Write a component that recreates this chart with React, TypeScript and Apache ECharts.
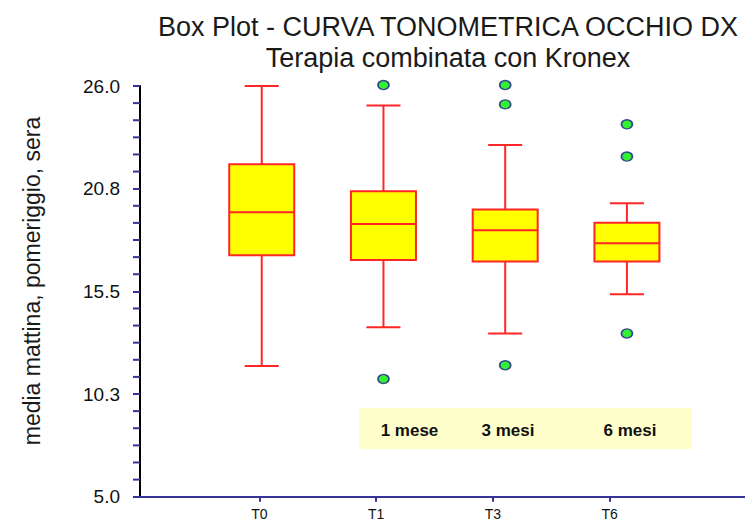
import React, { useEffect, useRef } from "react";
import * as echarts from "echarts";

// ---- data ----
const categories = ["T0", "T1", "T3", "T6"];
const whiskerLow = [11.68, 13.66, 13.35, 15.35];
const q1 = [17.34, 17.1, 17.02, 17.02];
const median = [19.54, 18.94, 18.62, 17.96];
const q3 = [22.0, 20.62, 19.69, 19.01];
const whiskerHigh = [26.0, 25.0, 22.98, 20.0];
const outliers: number[][] = [[], [26.05, 11.02], [26.05, 25.06, 11.72], [24.04, 22.39, 13.35]];
const yTicks = [5.0, 10.25, 15.5, 20.75, 26.0];
const minorPerMajor = 6;
const periodLabels = ["1 mese", "3 mesi", "6 mesi"];

const titleText = "Box Plot - CURVA TONOMETRICA OCCHIO DX";
const subtitleText = "Terapia combinata con Kronex";
const yName = "media mattina, pomeriggio, sera";

const FONT = "'Liberation Sans', Arial, sans-serif";
const RED = "#ff2626";
const BLUE = "#33339a";

export default function App() {
  const ref = useRef<HTMLDivElement>(null);

  useEffect(() => {
    if (!ref.current) return;
    const chart = echarts.init(ref.current, null, { renderer: "svg" });

    const boxData = categories.map((c, i) => [
      i + 1,
      whiskerLow[i],
      q1[i],
      median[i],
      q3[i],
      whiskerHigh[i],
    ]);
    const outlierData: number[][] = [];
    outliers.forEach((arr, i) => arr.forEach((v) => outlierData.push([i + 1, v])));

    const yMin = yTicks[0];
    const yMax = yTicks[yTicks.length - 1];
    const yMajor = yTicks[1] - yTicks[0];
    const yMinor = yMajor / minorPerMajor;
    // minor tick positions between the labelled ticks
    const minorTickData: number[][] = [];
    for (let j = 0; j < yTicks.length - 1; j++) {
      for (let k = 1; k < minorPerMajor; k++) {
        minorTickData.push([0, yTicks[j] + k * yMinor]);
      }
    }

    const option: any = {
      animation: false,
      backgroundColor: "#ffffff",
      title: [
        {
          text: titleText,
          left: 443,
          top: 8,
          textAlign: "center",
          textStyle: { fontFamily: FONT, fontSize: 27, fontWeight: "normal", color: "#1a1a1a" },
        },
        {
          text: subtitleText,
          left: 443,
          top: 39,
          textAlign: "center",
          textStyle: { fontFamily: FONT, fontSize: 27, fontWeight: "normal", color: "#1a1a1a" },
        },
      ],
      grid: [
        { left: 140, right: 0, top: 86, bottom: 33.3 },
        { left: 142.5, right: 18.5, top: 86, bottom: 33.3 },
      ],
      xAxis: [
        {
          type: "value",
          gridIndex: 0,
          min: 0,
          max: 4.97,
          axisLine: { show: true, onZero: false, lineStyle: { color: BLUE, width: 2 } },
          axisTick: { show: false },
          axisLabel: { show: false },
          splitLine: { show: false },
        },
        {
          type: "category",
          gridIndex: 1,
          data: ["", ...categories, ""],
          boundaryGap: false,
          axisLine: { show: false },
          axisTick: {
            show: true,
            length: 5,
            interval: (_i: number, v: string) => v !== "",
            lineStyle: { color: BLUE, width: 2 },
          },
          axisLabel: {
            interval: 0,
            margin: 10,
            fontFamily: FONT,
            fontSize: 14,
            color: "#111",
          },
          splitLine: { show: false },
        },
      ],
      yAxis: [
        {
          type: "value",
          gridIndex: 0,
          min: yMin,
          max: yMax,
          interval: yMajor,
          axisLine: { show: true, onZero: false, lineStyle: { color: "#000", width: 2 } },
          axisTick: { show: true, length: 7, lineStyle: { color: BLUE, width: 2 } },
          axisLabel: {
            margin: 20,
            fontFamily: FONT,
            fontSize: 19,
            color: "#111",
            formatter: (v: number) => v.toFixed(1),
          },
          splitLine: { show: false },
        },
        {
          type: "value",
          gridIndex: 1,
          min: yMin,
          max: yMax,
          show: false,
        },
      ],
      graphic: [
        {
          type: "text",
          x: 32,
          y: 281,
          rotation: Math.PI / 2,
          style: {
            text: yName,
            fontFamily: FONT,
            fontSize: 23,
            fill: "#1a1a1a",
            textAlign: "center",
            textVerticalAlign: "middle",
          },
        },
        {
          type: "rect",
          shape: { x: 359, y: 408, width: 333, height: 41 },
          style: { fill: "#ffffcc" },
        },
        ...periodLabels.map((t, i) => ({
          type: "text",
          x: [409.5, 508, 630][i],
          y: 430,
          style: {
            text: t,
            fontFamily: FONT,
            fontSize: 17,
            fontWeight: "bold",
            fill: "#111",
            textAlign: "center",
            textVerticalAlign: "middle",
          },
        })),
      ],
      series: [
        {
          // minor ticks of the y axis
          type: "custom",
          xAxisIndex: 0,
          yAxisIndex: 0,
          clip: false,
          silent: true,
          data: minorTickData,
          encode: { x: 0, y: 1 },
          renderItem: (_params: any, api: any) => {
            const p = api.coord([api.value(0), api.value(1)]);
            return {
              type: "line",
              shape: { x1: p[0] - 7, y1: p[1], x2: p[0], y2: p[1] },
              style: { stroke: BLUE, lineWidth: 2 },
            };
          },
        },
        {
          type: "custom",
          xAxisIndex: 0,
          yAxisIndex: 0,
          data: boxData,
          encode: { x: 0, y: [1, 2, 3, 4, 5] },
          renderItem: (_params: any, api: any) => {
            const x = api.value(0);
            const low = api.coord([x, api.value(1)]);
            const p1 = api.coord([x, api.value(2)]);
            const pm = api.coord([x, api.value(3)]);
            const p3 = api.coord([x, api.value(4)]);
            const high = api.coord([x, api.value(5)]);
            const cx = low[0];
            const bw = 65;
            const cw = 34;
            const ls = { stroke: RED, lineWidth: 2 };
            return {
              type: "group",
              children: [
                { type: "line", shape: { x1: cx, y1: high[1], x2: cx, y2: p3[1] }, style: ls },
                { type: "line", shape: { x1: cx, y1: p1[1], x2: cx, y2: low[1] }, style: ls },
                { type: "line", shape: { x1: cx - cw / 2, y1: high[1], x2: cx + cw / 2, y2: high[1] }, style: ls },
                { type: "line", shape: { x1: cx - cw / 2, y1: low[1], x2: cx + cw / 2, y2: low[1] }, style: ls },
                {
                  type: "rect",
                  shape: { x: cx - bw / 2, y: p3[1], width: bw, height: p1[1] - p3[1] },
                  style: { fill: "#ffff00", stroke: RED, lineWidth: 2 },
                },
                { type: "line", shape: { x1: cx - bw / 2, y1: pm[1], x2: cx + bw / 2, y2: pm[1] }, style: ls },
              ],
            };
          },
        },
        {
          type: "scatter",
          xAxisIndex: 0,
          yAxisIndex: 0,
          clip: false,
          data: outlierData,
          symbol: "circle",
          symbolSize: [11, 9],
          itemStyle: { color: "#00ee00", borderColor: "#1c1c8c", borderWidth: 1.5 },
        },
      ],
    };

    chart.setOption(option);
    return () => chart.dispose();
  }, []);

  return (
    <div
      ref={ref}
      style={{ position: "fixed", left: 0, top: 0, width: 745, height: 530 }}
    />
  );
}
